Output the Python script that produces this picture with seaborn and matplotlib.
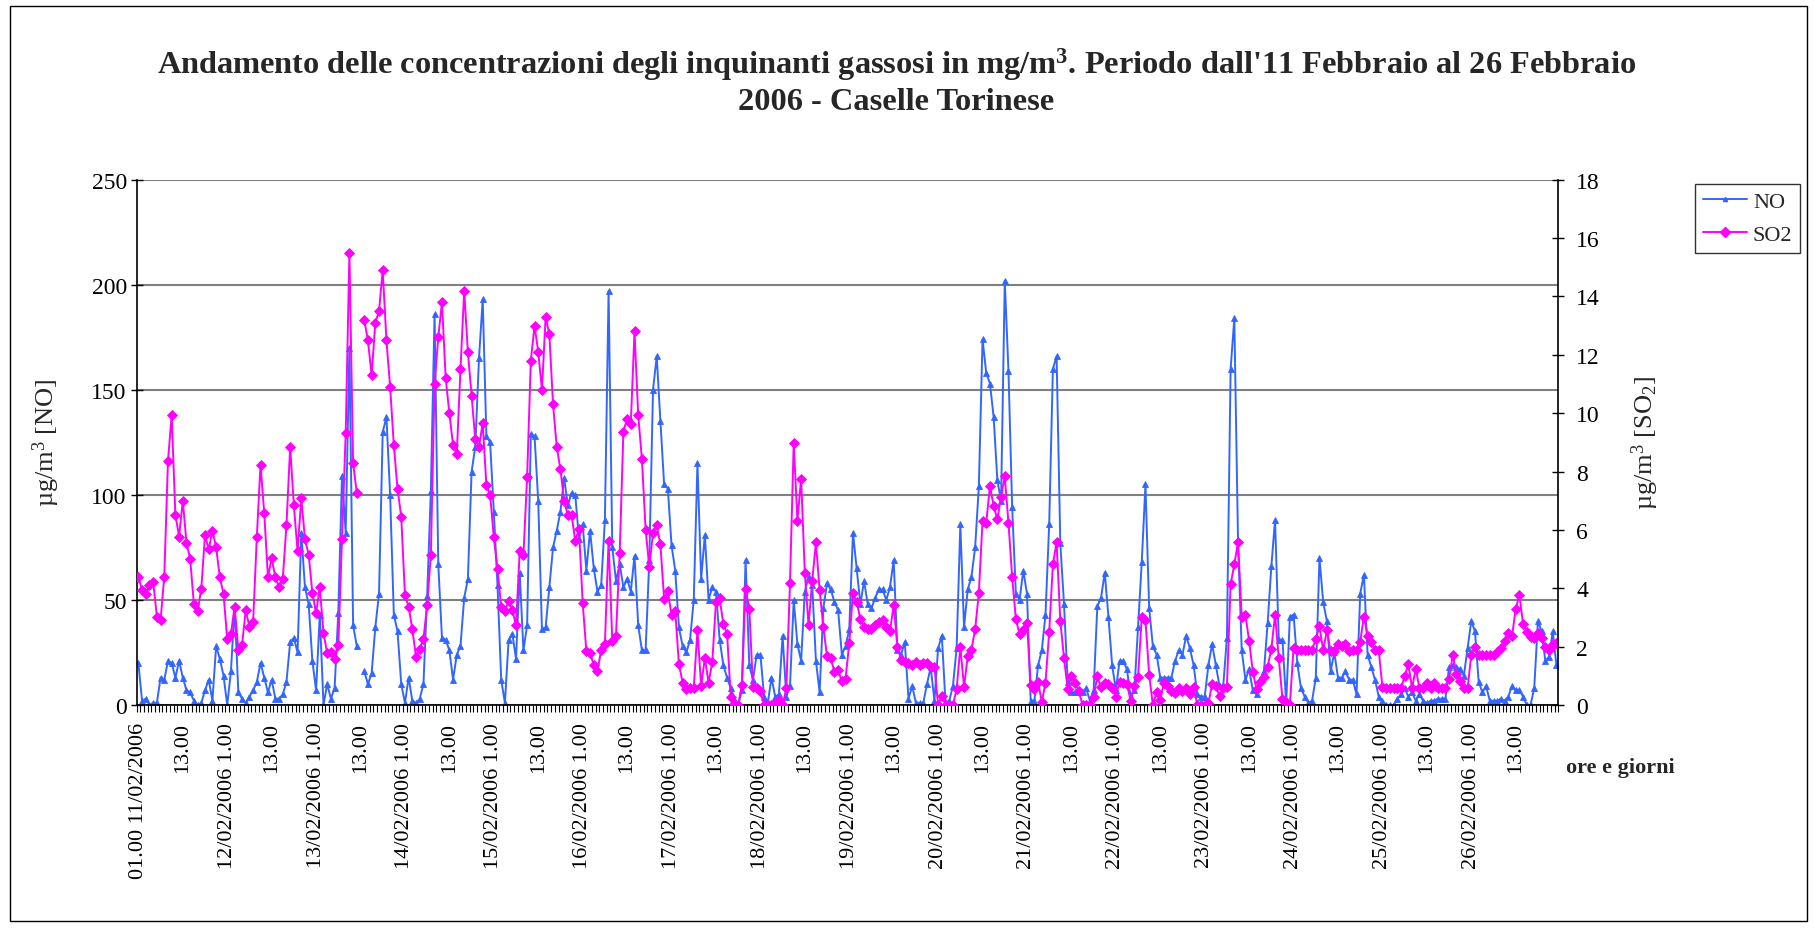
import numpy as np
import pandas as pd
import matplotlib
matplotlib.use("Agg")
import matplotlib.pyplot as plt
import seaborn as sns
from matplotlib.lines import Line2D
from matplotlib.patches import Rectangle

nan = np.nan

# hourly NO concentrations (µg/m3), 11/02/2006 01:00 -> 26/02/2006 24:00
NO = [20, 2, 3, 0, 1, 1, 13, 12, 21, 20, 13, 21,
      13, 7, 6, 2, 0, 1, 7, 12, 2, 28, 22, 14,
      0, 16, 47, 6, 3, 1, 4, 7, 11, 20, 13, 6,
      12, 3, 3, 5, 11, 30, 32, 25, 82, 56, 48, 21,
      7, 43, 0, 10, 3, 8, 44, 109, 82, 170, 38, 28,
      nan, 16, 10, 15, 37, 53, 130, 137, 100, 43, 35, 10,
      1, 13, 2, 1, 3, 10, 52, 102, 186, 67, 32, 31,
      26, 12, 24, 28, 51, 60, 111, 123, 165, 193, 128, 125,
      92, 57, 12, 1, 31, 34, 22, 63, 26, 38, 129, 128,
      97, 36, 37, 56, 75, 83, 92, 108, 95, 101, 100, 79,
      86, 64, 83, 65, 54, 57, 88, 197, 75, 59, 67, 56,
      60, 54, 71, 38, 26, 26, 69, 150, 166, 135, 105, 103,
      76, 64, 37, 28, 25, 31, 50, 115, 60, 81, 50, 56,
      54, 31, 19, 13, 8, 3, 0, 7, 69, 19, 12, 24,
      24, 4, 1, 13, 4, 5, 33, 4, 9, 50, 29, 21,
      54, 61, 57, 21, 6, 46, 58, 55, 49, 45, 24, 28,
      36, 82, 65, 48, 59, 48, 46, 51, 55, 55, 50, 56,
      69, 26, 24, 30, 3, 9, 1, 1, 1, 10, 18, 2,
      27, 33, 1, 2, 9, 27, 86, 37, 55, 61, 75, 104,
      174, 158, 153, 137, 107, 97, 202, 159, 94, 53, 50, 64,
      53, 2, 2, 19, 26, 43, 86, 160, 166, 77, 48, 11,
      6, 6, 6, 6, 8, 2, 7, 47, 51, 63, 42, 19,
      7, 21, 21, 17, 4, 7, 37, 68, 105, 46, 28, 24,
      13, 13, 13, 13, 21, 26, 24, 33, 27, 19, 5, 4,
      4, 19, 29, 19, 9, 9, 32, 160, 184, 78, 26, 12,
      17, 7, 5, 12, 16, 39, 66, 88, 31, 31, 1, 42,
      43, 20, 8, 4, 1, 2, 13, 70, 49, 40, 16, 25,
      13, 13, 16, 12, 12, 5, 53, 62, 24, 18, 12, 4,
      2, 0, 0, 0, 3, 5, 8, 4, 6, 2, 5, 2,
      1, 2, 2, 3, 3, 3, 18, 19, 18, 17, 14, 27,
      40, 35, 11, 6, 9, 2, 2, 2, 3, 2, 4, 9,
      7, 7, 4, 0, 0, 8, 40, 35, 21, 23, 35, 19]

# hourly SO2 concentrations (µg/m3)
SO2 = [4.40, 3.93, 3.81, 4.10, 4.22, 3.03, 2.91, 4.40, 8.36, 9.93, 6.52, 5.77,
       7.0, 5.56, 5.0, 3.45, 3.21, 3.99, 5.83, 5.33, 5.97, 5.41, 4.38, 3.81,
       2.26, 2.44, 3.37, 1.90, 2.06, 3.25, 2.68, 2.86, 5.77, 8.23, 6.57, 4.38,
       5.03, 4.38, 4.04, 4.31, 6.16, 8.84, 6.84, 5.27, 7.08, 5.69, 5.15, 3.84,
       3.15, 4.04, 2.47, 1.78, 1.82, 1.58, 2.05, 5.69, 9.31, 15.5, 8.29, 7.26,
       nan, 13.2, 12.5, 11.3, 13.1, 13.5, 14.9, 12.5, 10.9, 8.9, 7.4, 6.45,
       3.77, 3.37, 2.59, 1.64, 1.93, 2.26, 3.43, 5.14, 11.0, 12.6, 13.8, 11.2,
       10.0, 8.9, 8.6, 11.5, 14.2, 12.1, 10.6, 9.1, 8.84, 9.66, 7.53, 7.2,
       5.75, 4.66, 3.35, 3.21, 3.57, 3.25, 2.74, 5.26, 5.14, 7.82, 11.8, 13.0,
       12.1, 10.8, 13.3, 12.7, 10.3, 8.84, 8.07, 6.98, 6.51, 6.51, 5.62, 6.04,
       3.51, 1.84, 1.78, 1.37, 1.17, 1.88, 2.08, 5.63, 2.20, 2.38, 5.21, 9.37,
       9.81, 9.64, 12.8, 9.93, 8.42, 6.01, 4.72, 5.89, 6.16, 5.50, 3.63, 3.89,
       3.09, 3.21, 1.39, 0.77, 0.54, 0.59, 0.59, 2.56, 0.65, 1.61, 0.77, 1.46,
       3.53, 3.65, 2.77, 2.44, 0.27, 0.02, 0.0, 0.69, 3.99, 3.30, 0.62, 0.59,
       0.48, 0.0, 0.0, 0.0, 0.06, 0.18, 0.0, 0.57, 4.19, 8.98, 6.31, 7.76,
       4.52, 2.74, 4.26, 5.57, 3.93, 2.68, 1.67, 1.61, 1.13, 1.19, 0.81, 0.89,
       2.12, 3.84, 3.53, 2.95, 2.68, 2.62, 2.59, 2.74, 2.86, 2.91, 2.68, 2.52,
       3.43, 2.0, 1.55, 1.49, 1.43, 1.37, 1.49, 1.37, 1.43, 1.43, 1.31, 1.31,
       0.0, 0.32, 0.0, 0.0, 0.0, 0.54, 2.0, 0.62, 1.67, 1.90, 2.59, 3.84,
       6.31, 6.25, 7.5, 6.82, 6.36, 7.14, 7.83, 6.25, 4.38, 2.95, 2.42, 2.56,
       2.82, 0.69, 0.54, 0.80, 0.10, 0.77, 2.50, 4.82, 5.57, 2.89, 1.61, 0.54,
       0.99, 0.77, 0.48, 0.0, 0.0, 0.0, 0.27, 0.99, 0.60, 0.74, 0.71, 0.59,
       0.27, 0.80, 0.74, 0.71, 0.15, 0.65, 0.95, 3.03, 2.91, 1.04, 0.0, 0.44,
       0.18, 0.77, 0.65, 0.48, 0.42, 0.59, 0.48, 0.57, 0.36, 0.63, 0.0, 0.0,
       0.0, 0.06, 0.71, 0.65, 0.30, 0.59, 0.62, 4.13, 4.82, 5.57, 3.03, 3.09,
       2.20, 1.13, 0.54, 0.80, 0.95, 1.31, 1.93, 3.09, 1.61, 0.21, 0.10, 0.0,
       1.96, 1.90, 1.90, 1.90, 1.90, 1.90, 2.26, 2.70, 1.87, 2.56, 1.84, 1.84,
       2.08, 2.02, 2.08, 1.85, 1.87, 1.87, 2.17, 3.03, 2.38, 2.16, 1.87, 1.87,
       0.62, 0.57, 0.57, 0.57, 0.57, 0.57, 0.99, 1.40, 0.57, 1.25, 0.57, 0.57,
       0.75, 0.59, 0.77, 0.57, 0.57, 0.57, 0.89, 1.72, 1.05, 0.83, 0.57, 0.57,
       1.72, 1.99, 1.70, 1.70, 1.70, 1.70, 1.70, 1.82, 1.96, 2.20, 2.47, 2.35,
       3.30, 3.77, 2.77, 2.50, 2.32, 2.30, 2.47, 2.30, 2.00, 1.90, 2.08, 2.12]

days = [f"{d:02d}/02/2006" for d in range(11, 27)]
tick_labels = []
for k, d in enumerate(days):
    tick_labels.append("01.00 " + d if k == 0 else d + " 1.00")
    tick_labels.append("13.00")

series_names = ["NO", "SO2"]
colors = {"NO": "#3366FF", "SO2": "#FF00FF"}

sns.set_theme(style="white")
plt.rcParams["font.family"] = ["Liberation Serif", "DejaVu Serif"]
plt.rcParams["mathtext.fontset"] = "custom"
plt.rcParams["mathtext.rm"] = "Liberation Serif"
plt.rcParams["mathtext.it"] = "Liberation Serif:italic"
plt.rcParams["mathtext.bf"] = "Liberation Serif:bold"

n = len(NO)
hours = np.arange(n)
df = pd.DataFrame({"h": hours, "NO": NO, "SO2": SO2})
# segment id so that the missing hour breaks the lines
df["seg"] = np.cumsum(df["NO"].isna().astype(int))

fig = plt.figure(figsize=(18.14, 9.29), dpi=100)
ax = fig.add_axes([0.07525, 0.24004, 0.78379, 0.56545])
ax2 = ax.twinx()

sns.lineplot(data=df.dropna(subset=["NO"]), x="h", y="NO", units="seg", estimator=None,
             color=colors["NO"], marker="^", markersize=4.5, markeredgewidth=0.6,
             markeredgecolor=colors["NO"], linewidth=1.4, ax=ax, legend=False)
sns.lineplot(data=df.dropna(subset=["SO2"]), x="h", y="SO2", units="seg", estimator=None,
             color=colors["SO2"], marker="D", markersize=5, markeredgewidth=0.6,
             markeredgecolor=colors["SO2"], linewidth=1.4, ax=ax2, legend=False)

ax.set_xlim(-0.5, n - 0.5)
ax.set_ylim(0, 250)
ax2.set_ylim(0, 18)
ax.set_yticks(np.arange(0, 251, 50))
ax2.set_yticks(np.arange(0, 19, 2))

ax.grid(axis="y", color="#808080", linewidth=1.5)
ax.grid(axis="x", visible=False)
ax.set_axisbelow(True)

ax.set_xticks(np.arange(0, n, 12))
ax.set_xticklabels(tick_labels, rotation=90, fontsize=16, va="top", ha="center")
ax.set_xticks(np.arange(-0.5, n, 1), minor=True)
ax.tick_params(axis="x", which="major", length=0, pad=12, colors="black")
ax.tick_params(axis="x", which="minor", length=5, width=0.8, direction="out",
               color="black", bottom=True)
ax.tick_params(axis="y", direction="inout", length=8, width=1, labelsize=17,
               pad=3, colors="black", left=True)
ax2.tick_params(axis="y", direction="inout", length=8, width=1, labelsize=17,
                pad=9, colors="black", right=True)

ax.set_xlabel("")
ax.set_ylabel("")
ax2.set_ylabel("")

for sp in ["top", "right"]:
    ax.spines[sp].set_visible(False)
for sp in ["top", "left", "bottom"]:
    ax2.spines[sp].set_visible(False)
for sp, a in [("left", ax), ("bottom", ax), ("right", ax2)]:
    a.spines[sp].set_color("black")
    a.spines[sp].set_linewidth(1.2)
    a.spines[sp].set_visible(True)

fig.text(0.494, 0.912,
         "Andamento delle concentrazioni degli inquinanti gassosi in mg/m$^{\\mathbf{3}}$. "
         "Periodo dall'11 Febbraio al 26 Febbraio\n2006 - Caselle Torinese",
         ha="center", va="center", fontsize=23.3, fontweight="bold", linespacing=1.2)

fig.text(0.0255, 0.523, "µg/m$^3$ [NO]", rotation=90, ha="center", va="center", fontsize=19)
fig.text(0.907, 0.523, "µg/m$^3$ [SO$_2$]", rotation=90, ha="center", va="center", fontsize=19)
fig.text(0.893, 0.173, "ore e giorni", ha="center", va="center", fontsize=16,
         fontweight="bold")

handles = [Line2D([], [], color=colors["NO"], marker="^", markersize=3, linewidth=1.4),
           Line2D([], [], color=colors["SO2"], marker="D", markersize=5, linewidth=1.4)]
leg = fig.legend(handles, series_names, loc="upper left",
                 bbox_to_anchor=(0.9345, 0.801), fontsize=16, frameon=True,
                 fancybox=False, edgecolor="black", handlelength=2.0,
                 borderpad=0.35, labelspacing=0.55, handletextpad=0.25, borderaxespad=0)
leg.get_frame().set_linewidth(1.0)

fig.patches.append(Rectangle((0.0055, 0.0075), 0.9906, 0.985, transform=fig.transFigure,
                             fill=False, edgecolor="black", linewidth=1.0))

fig.savefig("out.png", dpi=100)
